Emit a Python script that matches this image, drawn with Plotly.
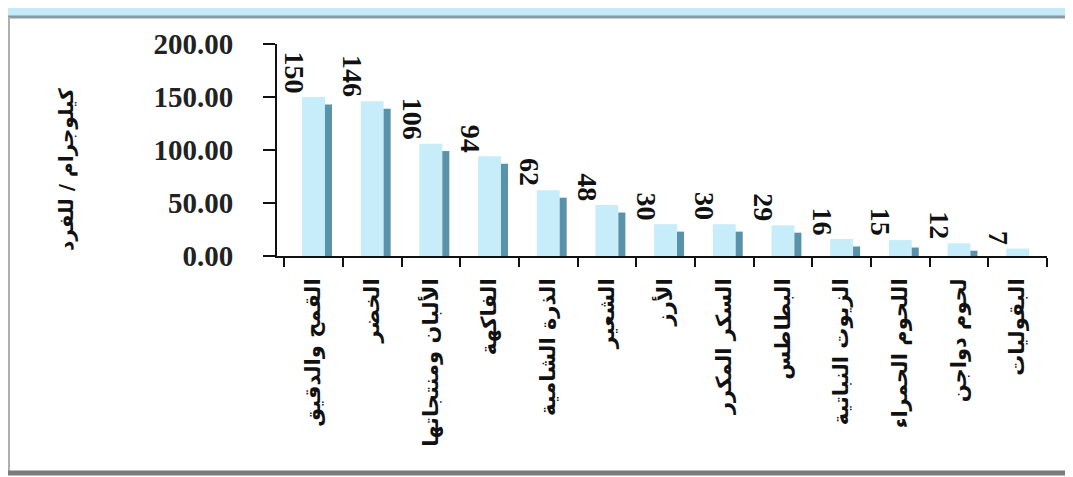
import plotly.graph_objects as go

categories = ["القمح والدقيق", "الخضر", "الألبان ومنتجاتها", "الفاكهة", "الذرة الشامية",
              "الشعير", "الأرز", "السكر المكرر", "البطاطس", "الزيوت النباتية",
              "اللحوم الحمراء", "لحوم دواجن", "البقوليات"]
values = [150, 146, 106, 94, 62, 48, 30, 30, 29, 16, 15, 12, 7]
value_labels = ["150", "146", "106", "94", "62", "48", "30", "30", "29", "16", "15", "12", "7"]
y_ticks = [0, 50, 100, 150, 200]
y_title = "كيلوجرام / للفرد"

PAGE_W, PAGE_H = 1073, 477
OFF = 8  # default body margin of the html page
W, H = PAGE_W - OFF, PAGE_H - OFF
# plot area in page pixels
PX0, PX1, PY0, PY1 = 277, 1047, 44, 256
L, R, T, B = PX0 - OFF, W - (PX1 - OFF), PY0 - OFF, H - (PY1 - OFF)
PW, PH = PX1 - PX0, PY1 - PY0
SIDE_DROP = 7  # visual depth of the 3D side face, in axis units

def px_x(p):  # page x -> paper
    return (p - PX0) / PW

def px_y(p):  # page y -> paper
    return (PY1 - p) / PH

front = go.Bar(x=categories, y=values, width=0.39, offset=-0.195,
               marker=dict(color="#c6edf9", line=dict(width=0)), hoverinfo="skip")
side = go.Bar(x=categories, y=[max(v - SIDE_DROP, 0) for v in values], width=0.12, offset=0.195,
              marker=dict(color="#5a92ab", line=dict(width=0)), hoverinfo="skip")

fig = go.Figure([front, side])

annotations = []
for c, v, t in zip(categories, values, value_labels):
    annotations.append(dict(x=c, y=v, xref="x", yref="y", text=t, showarrow=False,
                            textangle=90, xanchor="center", yanchor="bottom",
                            xshift=-19, yshift=2,
                            font=dict(family="Liberation Serif", size=28, color="#111",
                                      weight="bold")))
annotations.append(dict(x=px_x(66), y=px_y(170), xref="paper", yref="paper", text=y_title,
                        showarrow=False, textangle=-90, xanchor="center", yanchor="middle",
                        font=dict(family="DejaVu Sans", size=20, color="#111", weight="bold")))

shapes = [
    dict(type="rect", xref="paper", yref="paper", x0=px_x(0), x1=px_x(PAGE_W), y0=px_y(16),
         y1=px_y(0), fillcolor="#c4e9f7", line=dict(width=0), layer="below"),
    dict(type="line", xref="paper", yref="paper", x0=px_x(8), x1=px_x(PAGE_W), y0=px_y(17),
         y1=px_y(17), line=dict(color="#8a9aa3", width=3)),
    dict(type="line", xref="paper", yref="paper", x0=px_x(9), x1=px_x(9), y0=px_y(17),
         y1=px_y(474), line=dict(color="#b0b0b0", width=2)),
    dict(type="line", xref="paper", yref="paper", x0=px_x(8), x1=px_x(PAGE_W), y0=px_y(473),
         y1=px_y(473), line=dict(color="#7a7a7a", width=5)),
]

fig.update_layout(
    width=W, height=H,
    margin=dict(l=L, r=R, t=T, b=B, autoexpand=False),
    paper_bgcolor="white", plot_bgcolor="white",
    barmode="overlay", showlegend=False,
    annotations=annotations, shapes=shapes,
    xaxis=dict(showline=True, linecolor="#111", linewidth=2, ticks="outside", ticklen=9,
               tickwidth=2, tickcolor="#111", tickson="boundaries", tickangle=-90,
               showgrid=False, zeroline=False, ticklabelstandoff=12,
               tickfont=dict(family="DejaVu Sans", size=21, color="#111", weight="bold")),
    yaxis=dict(range=[0, 200], tickvals=y_ticks, tickformat=".2f", showline=True,
               linecolor="#111", linewidth=2, ticks="outside", ticklen=12, tickwidth=2,
               tickcolor="#111", showgrid=False, zeroline=False, ticklabelstandoff=24,
               tickfont=dict(family="Liberation Serif", size=29, color="#222", weight="bold")),
)

fig.write_html("out.html")
